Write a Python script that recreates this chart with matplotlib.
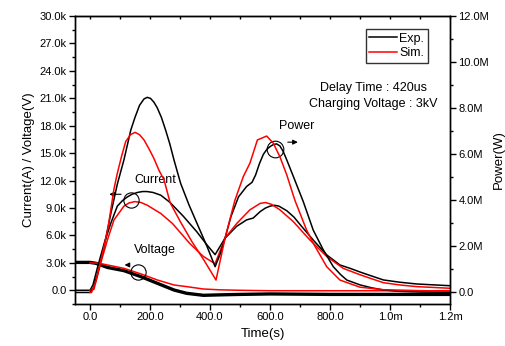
import matplotlib.pyplot as plt
from matplotlib.ticker import MultipleLocator

plt.rcParams['font.family'] = ['Liberation Sans', 'DejaVu Sans']

# time axis in microseconds
t_pwr_exp = [-50, 0, 10, 25, 47, 69, 91, 113, 136, 150, 165, 180, 191, 202, 213, 224, 238, 252, 266, 280, 302, 330,
             360, 390, 417, 435, 450, 470, 495, 522, 540, 552, 565, 578, 590, 600, 611, 622, 633, 644, 656, 678, 711,
             744, 778, 811, 835, 856, 900, 940, 978, 1030, 1100, 1200]
pwr_exp = [0, 0, 0.15, 0.8, 2.0, 3.4, 4.7, 5.75, 7.05, 7.6, 8.12, 8.4, 8.47, 8.42, 8.26, 8.02, 7.6, 7.05, 6.45, 5.75,
           4.74, 3.8, 2.9, 2.0, 1.12, 1.7, 2.35, 3.3, 4.15, 4.6, 4.78, 5.1, 5.6, 6.0, 6.22, 6.33, 6.42, 6.45, 6.36, 6.12,
           5.75, 5.03, 3.94, 2.71, 1.84, 1.12, 0.78, 0.54, 0.33, 0.2, 0.11, 0.05, 0.02, 0.01]  # MW

t_pwr_sim = [0, 5, 20, 40, 60, 80, 91, 105, 119, 135, 150, 165, 180, 196, 213, 230, 247, 267, 300, 340, 380, 420,
             450, 483, 511, 533, 558, 589, 611, 633, 656, 683, 722, 744, 789, 833, 900, 978, 1100, 1200]
pwr_sim = [0, 0, 0.5, 1.6, 2.8, 4.5, 5.17, 5.9, 6.55, 6.85, 6.95, 6.85, 6.62, 6.25, 5.82, 5.3, 4.88, 3.9, 3.1, 2.2, 1.4, 0.54,
           2.35, 4.0, 5.03, 5.61, 6.62, 6.79, 6.48, 5.89, 5.1, 4.0, 2.71, 2.14, 1.12, 0.54, 0.23, 0.12, 0.08, 0.06]

t_cur_exp = [-50, 0, 10, 25, 47, 69, 91, 108, 124, 140, 158, 175, 190, 210, 236, 267, 311, 356, 389, 417, 450, 489,
             522, 544, 567, 585, 600, 615, 630, 656, 680, 700, 744, 789, 833, 867, 900, 922, 978, 1033, 1089, 1200]
cur_exp = [0, 0, 0.6, 2.5, 5.1, 7.3, 9.2, 9.8, 10.2, 10.5, 10.7, 10.8, 10.8, 10.7, 10.4, 9.6, 8.1, 6.4, 5.0, 3.9, 5.7,
           7.0, 7.7, 7.9, 8.6, 9.0, 9.2, 9.3, 9.2, 8.7, 8.0, 7.2, 5.5, 3.87, 2.77, 2.4, 2.0, 1.75, 1.13, 0.88, 0.69,
           0.5]  # kA

t_cur_sim = [0, 13, 36, 58, 80, 113, 130, 150, 170, 191, 236, 275, 333, 378, 417, 450, 489, 533, 567, 585, 605, 633,
             678, 733, 789, 844, 900, 922, 978, 1033, 1089, 1200]
cur_sim = [0, 0.1, 3.0, 5.5, 7.7, 9.2, 9.55, 9.7, 9.6, 9.3, 8.4, 7.3, 5.1, 3.7, 2.9, 5.7, 7.3, 8.8, 9.5, 9.6, 9.4, 8.8,
           7.5, 5.5, 3.7, 2.4, 1.7, 1.45, 0.83, 0.58, 0.4, 0.22]

t_volt_exp = [-50, 0, 20, 58, 113, 169, 224, 280, 322, 378, 433, 500, 600, 800, 1000, 1200]
volt_exp = [3.05, 3.05, 2.95, 2.5, 2.15, 1.5, 0.77, 0.03, -0.33, -0.55, -0.5, -0.45, -0.4, -0.45, -0.45, -0.45]  # kV

t_volt_sim = [0, 30, 58, 113, 169, 224, 280, 322, 378, 433, 500, 600, 1200]
volt_sim = [3.0, 2.96, 2.77, 2.4, 1.8, 1.13, 0.58, 0.4, 0.14, 0.05, 0.0, -0.05, -0.05]

x_ticks = [0, 200, 400, 600, 800, 1000, 1200]
x_labels = ['0.0', '200.0', '400.0', '600.0', '800.0', '1.0m', '1.2m']
y_ticks = [0, 3, 6, 9, 12, 15, 18, 21, 24, 27, 30]
y_labels = ['0.0'] + ['%.1fk' % v for v in y_ticks[1:]]
p_ticks = [0, 2, 4, 6, 8, 10, 12]
p_labels = ['0.0'] + ['%.1fM' % v for v in p_ticks[1:]]

fig = plt.figure(figsize=(5.05, 3.46), dpi=100)
ax = fig.add_axes([75 / 505, 42 / 346, 375 / 505, 288 / 346])
ax2 = ax.twinx()

lw = 1.1
ax.plot(t_volt_exp, volt_exp, color='black', lw=2.4)
ax.plot(t_volt_sim, volt_sim, color='red', lw=lw)
ax.plot(t_cur_exp, cur_exp, color='black', lw=lw)
ax.plot(t_cur_sim, cur_sim, color='red', lw=lw)
ax2.plot(t_pwr_exp, pwr_exp, color='black', lw=lw, label='Exp.')
ax2.plot(t_pwr_sim, pwr_sim, color='red', lw=lw, label='Sim.')

ax.set_xlim(-50, 1200)
ax.set_ylim(-1.5, 30)
ax2.set_ylim(-0.5, 12)

ax.set_xticks(x_ticks)
ax.set_xticklabels(x_labels)
ax.xaxis.set_minor_locator(MultipleLocator(100))
ax.set_yticks(y_ticks)
ax.set_yticklabels(y_labels)
ax.yaxis.set_minor_locator(MultipleLocator(1.5))
ax2.set_yticks(p_ticks)
ax2.set_yticklabels(p_labels)
ax2.yaxis.set_minor_locator(MultipleLocator(1))

for a in (ax, ax2):
    for s in a.spines.values():
        s.set_linewidth(1.0)
ax.tick_params(axis='both', which='major', direction='out', length=4, width=1, labelsize=8, pad=2)
ax.tick_params(axis='both', which='minor', direction='out', length=2.5, width=1)
ax2.tick_params(axis='y', which='major', direction='out', length=4, width=1, labelsize=8, pad=2)
ax2.tick_params(axis='y', which='minor', direction='out', length=2.5, width=1)

# short inward ticks on the top edge
sec = ax.secondary_xaxis('top')
sec.xaxis.set_major_locator(MultipleLocator(100))
sec.tick_params(direction='in', length=2, width=1, labelsize=0)
sec.set_xticklabels([])

ax.set_xlabel('Time(s)', fontsize=9.5, labelpad=4)
ax.set_ylabel('Current(A) / Voltage(V)', fontsize=9.5, labelpad=3)
ax2.set_ylabel('Power(W)', fontsize=9.5, labelpad=3)

leg = ax2.legend(loc='upper right', bbox_to_anchor=(428 / 505, 1 - 29 / 346), bbox_transform=fig.transFigure,
                 fontsize=9, frameon=True, fancybox=False, handlelength=2.2, handletextpad=0.2,
                 borderpad=0.3, labelspacing=0.2, borderaxespad=0)
leg.get_frame().set_edgecolor('black')
leg.get_frame().set_linewidth(1.0)

ax.text(945, 22.1, 'Delay Time : 420us', ha='center', va='center', fontsize=9)
ax.text(945, 20.4, 'Charging Voltage : 3kV', ha='center', va='center', fontsize=9)

# markers for which curve goes with which axis
ax.text(690, 18.0, 'Power', ha='center', va='center', fontsize=9)
ax.plot([617], [15.4], marker='o', ms=12, mfc='none', mec='black', mew=0.8)
ax.annotate('', xy=(702, 16.2), xytext=(650, 16.2),
            arrowprops=dict(arrowstyle='-|>', color='black', lw=0.8, mutation_scale=7))

ax.text(217, 12.1, 'Current', ha='center', va='center', fontsize=9)
ax.plot([136], [9.9], marker='o', ms=11, mfc='none', mec='black', mew=0.8)
ax.annotate('', xy=(55, 10.5), xytext=(113, 10.5),
            arrowprops=dict(arrowstyle='-|>', color='black', lw=0.8, mutation_scale=7))

ax.text(217, 4.4, 'Voltage', ha='center', va='center', fontsize=9)
ax.plot([160], [1.95], marker='o', ms=11, mfc='none', mec='black', mew=0.8)
ax.annotate('', xy=(106, 2.77), xytext=(141, 2.77),
            arrowprops=dict(arrowstyle='-|>', color='black', lw=0.8, mutation_scale=7))

fig.savefig('out.png', dpi=100)
